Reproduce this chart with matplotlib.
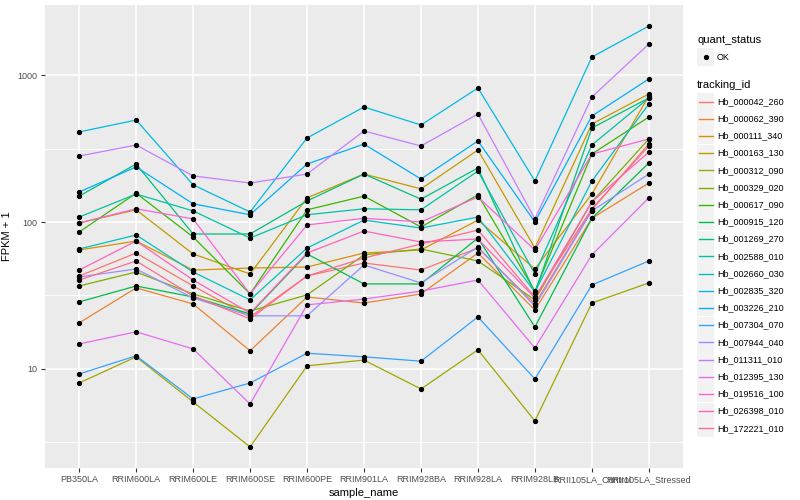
import numpy as np
import matplotlib
matplotlib.use("Agg")
import matplotlib.pyplot as plt
from matplotlib.patches import Rectangle
from matplotlib.lines import Line2D

plt.rcParams['font.family'] = ['Liberation Sans', 'DejaVu Sans']

samples = ["PB350LA", "RRIM600LA", "RRIM600LE", "RRIM600SE", "RRIM600PE",
           "RRIM901LA", "RRIM928BA", "RRIM928LA", "RRIM928LB",
           "RRII105LA_Control", "RRII105LA_Stressed"]

tracking_ids = ["Hb_000042_260", "Hb_000062_390", "Hb_000111_340", "Hb_000163_130",
                "Hb_000312_090", "Hb_000329_020", "Hb_000617_090", "Hb_000915_120",
                "Hb_001269_270", "Hb_002588_010", "Hb_002660_030", "Hb_002835_320",
                "Hb_003226_210", "Hb_007304_070", "Hb_007944_040", "Hb_011311_010",
                "Hb_012395_130", "Hb_019516_100", "Hb_026398_010", "Hb_172221_010"]

colors = ["#F8766D", "#EA8331", "#D89000", "#C09B00", "#A3A500", "#7CAE00",
          "#39B600", "#00BB4E", "#00BF7D", "#00C1A3", "#00BFC4", "#00BAE0",
          "#00B0F6", "#35A2FF", "#9590FF", "#C77CFF", "#E76BF3", "#FA62DB",
          "#FF62BC", "#FF6C91"]

Hb_000042_260 = [42.9, 61.5, 36.7, 22.6, 42.9, 52.6, 47.1, 66.5, 27.7, 121, 339]
Hb_000062_390 = [20.6, 35.6, 27.7, 13.3, 30.9, 28.1, 32.4, 61.5, 25.2, 106, 184]
Hb_000111_340 = [64.5, 74.2, 47.1, 48.6, 49.4, 61.5, 64.5, 103, 47.9, 155, 720]
Hb_000163_130 = [98.5, 121, 60.6, 44.3, 146, 212, 168, 309, 66.5, 464, 743]
Hb_000312_090 = [8.03, 12.1, 5.97, 2.95, 10.5, 11.5, 7.31, 13.5, 4.43, 28.1, 38.5]
Hb_000329_020 = [36.7, 45.7, 32.4, 24.8, 31.9, 59.7, 65.5, 54.3, 29.5, 137, 367]
Hb_000617_090 = [85.5, 157, 79.1, 32.4, 121, 150, 92.5, 153, 33.9, 290, 518]
Hb_000915_120 = [28.6, 36.7, 30.9, 23.7, 60.6, 37.9, 37.9, 77.8, 19.3, 106, 252]
Hb_001269_270 = [150, 248, 82.9, 82.9, 139, 212, 143, 233, 32.9, 436, 698]
Hb_002588_010 = [108, 155, 119, 77.8, 112, 123, 121, 222, 44.3, 334, 698]
Hb_002660_030 = [65.5, 81.6, 45.7, 29.5, 66.5, 103, 91, 108, 33.4, 190, 635]
Hb_002835_320 = [410, 494, 179, 117, 373, 606, 457, 816, 190, 1325, 2154]
Hb_003226_210 = [160, 237, 133, 112, 248, 339, 196, 356, 100, 526, 940]
Hb_007304_070 = [9.25, 12.3, 6.25, 8.03, 12.8, 12.1, 11.3, 22.6, 8.55, 37.3, 54.3]
Hb_007944_040 = [42.3, 47.9, 30.4, 23.0, 23.0, 51.0, 38.5, 67.6, 26.8, 119, 212]
Hb_011311_010 = [281, 334, 206, 184, 212, 416, 329, 543, 105, 708, 1625]
Hb_012395_130 = [14.8, 17.9, 13.7, 5.78, 27.3, 29.9, 33.9, 40.3, 13.9, 59.7, 146]
Hb_019516_100 = [98.5, 123, 105, 32.4, 95.5, 106, 100, 148, 64.5, 290, 367]
Hb_026398_010 = [47.1, 74.2, 40.3, 24.0, 61.5, 86.8, 73.1, 76.6, 30.4, 137, 299]
Hb_172221_010 = [40.3, 54.3, 31.4, 21.9, 42.9, 56.9, 70.8, 88.2, 30.9, 123, 329]

series = [Hb_000042_260, Hb_000062_390, Hb_000111_340, Hb_000163_130, Hb_000312_090,
          Hb_000329_020, Hb_000617_090, Hb_000915_120, Hb_001269_270, Hb_002588_010,
          Hb_002660_030, Hb_002835_320, Hb_003226_210, Hb_007304_070, Hb_007944_040,
          Hb_011311_010, Hb_012395_130, Hb_019516_100, Hb_026398_010, Hb_172221_010]

yticks = [10, 100, 1000]
ytick_labels = ["10", "100", "1000"]

W, H = 800, 500
fig = plt.figure(figsize=(8, 5), dpi=100)
fig.patch.set_facecolor("white")
L, R, T, B = 45, 683, 5, 468
ax = fig.add_axes([L / W, 1 - B / H, (R - L) / W, (B - T) / H])
ax.set_facecolor("#EBEBEB")
ax.set_yscale("log")
x = np.arange(len(samples))
ax.set_xlim(-0.6, len(samples) - 1 + 0.6)
ax.set_ylim(2.12, 2995)

# grid
for v in [10 ** 0.5, 10 ** 1.5, 10 ** 2.5, 10 ** 3.5]:
    ax.axhline(v, color="white", lw=0.55, zorder=0)
for v in yticks:
    ax.axhline(v, color="white", lw=1.1, zorder=0)
for xi in x:
    ax.axvline(xi, color="white", lw=1.1, zorder=0)

for vals, c in zip(series, colors):
    ax.plot(x, vals, color=c, lw=0.9, zorder=2)
for vals in series:
    ax.plot(x, vals, ls="none", marker="o", ms=2.8, color="black", zorder=3)

for s in ax.spines.values():
    s.set_visible(False)
ax.set_xticks(x)
ax.set_xticklabels(samples, fontsize=6.5, color="#4D4D4D")
ax.set_yticks(yticks)
ax.set_yticklabels(ytick_labels, fontsize=6.5, color="#4D4D4D")
ax.yaxis.set_minor_locator(matplotlib.ticker.NullLocator())
ax.tick_params(axis="both", which="major", length=2.8, width=0.8, color="#333333", pad=2.5)
ax.set_xlabel("sample_name", fontsize=8)
ax.set_ylabel("FPKM + 1", fontsize=8)
ax.yaxis.set_label_coords((12 - L) / (R - L), 0.5)
ax.xaxis.set_label_coords(0.5, -(488 - B) / (B - T))

# legend (ggplot style)
def fy(py):
    return 1 - py / H
def fx(px):
    return px / W

fig.text(fx(697), fy(40), "quant_status", fontsize=8, va="center", ha="left")
kx, ksz = 697, 17
fig.patches.append(Rectangle((fx(kx), fy(48.5 + ksz)), ksz / W, ksz / H,
                             transform=fig.transFigure, facecolor="#F2F2F2",
                             edgecolor="none"))
fig.lines.append(Line2D([fx(kx + ksz / 2)], [fy(57)], marker="o", ms=2.8,
                        color="black", transform=fig.transFigure))
fig.text(fx(717), fy(57), "OK", fontsize=6.5, va="center", ha="left")

fig.text(fx(697), fy(85), "tracking_id", fontsize=8, va="center", ha="left")
y0, step = 101.5, 17.2
for i, (tid, c) in enumerate(zip(tracking_ids, colors)):
    cy = y0 + i * step
    fig.patches.append(Rectangle((fx(kx), fy(cy + ksz / 2)), ksz / W, ksz / H,
                                 transform=fig.transFigure, facecolor="#F2F2F2",
                                 edgecolor="none"))
    fig.lines.append(Line2D([fx(kx + 1.5), fx(kx + ksz - 1.5)], [fy(cy), fy(cy)],
                            color=c, lw=1.0, transform=fig.transFigure))
    fig.text(fx(717), fy(cy), tid, fontsize=6.5, va="center", ha="left")

fig.savefig("out.png", dpi=100)
